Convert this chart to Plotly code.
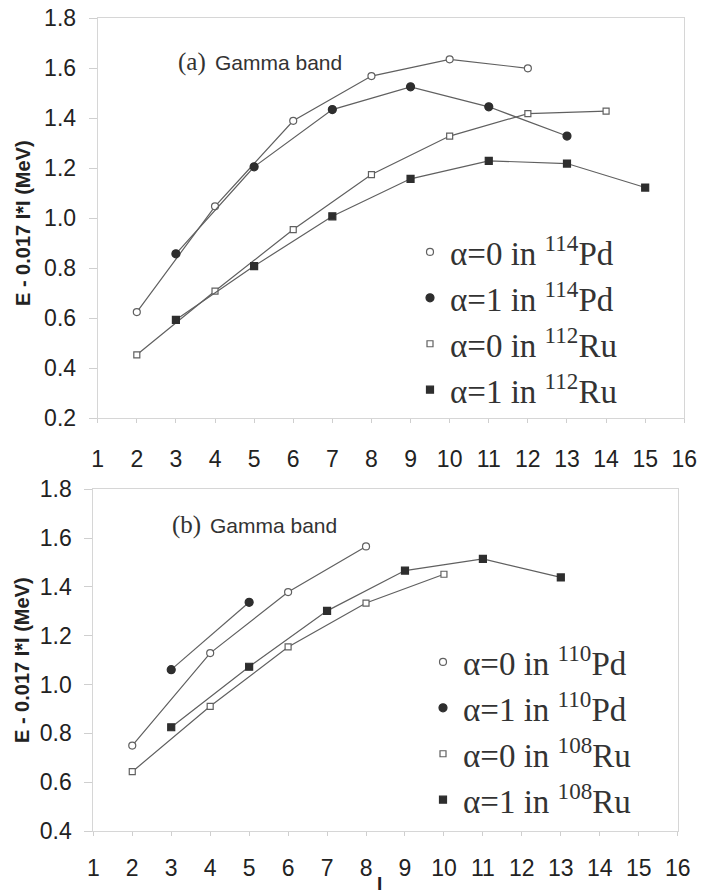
import plotly.graph_objects as go

W, H = 702, 896

# ---------------- data ----------------
# Panel (a)
a_pd0_I = [2, 4, 6, 8, 10, 12]
a_pd0_E = [0.625, 1.048, 1.390, 1.569, 1.636, 1.600]
a_pd1_I = [3, 5, 7, 9, 11, 13]
a_pd1_E = [0.858, 1.206, 1.435, 1.526, 1.446, 1.329]
a_ru0_I = [2, 4, 6, 8, 10, 12, 14]
a_ru0_E = [0.454, 0.709, 0.955, 1.175, 1.329, 1.419, 1.429]
a_ru1_I = [3, 5, 7, 9, 11, 13, 15]
a_ru1_E = [0.594, 0.809, 1.008, 1.158, 1.230, 1.219, 1.123]

# Panel (b)
b_pd0_I = [2, 4, 6, 8]
b_pd0_E = [0.750, 1.129, 1.379, 1.566]
b_pd1_I = [3, 5]
b_pd1_E = [1.061, 1.337]
b_ru0_I = [2, 4, 6, 8, 10]
b_ru0_E = [0.643, 0.911, 1.154, 1.334, 1.452]
b_ru1_I = [3, 5, 7, 9, 11, 13]
b_ru1_E = [0.825, 1.073, 1.302, 1.467, 1.515, 1.439]

a_names = ["α=0 in <sup>114</sup>Pd", "α=1 in <sup>114</sup>Pd",
           "α=0 in <sup>112</sup>Ru", "α=1 in <sup>112</sup>Ru"]
b_names = ["α=0 in <sup>110</sup>Pd", "α=1 in <sup>110</sup>Pd",
           "α=0 in <sup>108</sup>Ru", "α=1 in <sup>108</sup>Ru"]

x_ticks = list(range(1, 17))

# ---------------- styling ----------------
LINE = "#606060"
DARK = "#2e2e2e"
styles = [
    dict(symbol="circle", color="white", lc=LINE, size=7),
    dict(symbol="circle", color=DARK, lc=DARK, size=8),
    dict(symbol="square", color="white", lc=LINE, size=6),
    dict(symbol="square", color=DARK, lc=DARK, size=7),
]

fig = go.Figure()

def add_series(I, E, name, st, xa, ya, leg):
    fig.add_trace(go.Scatter(
        x=I, y=E, mode="lines", line=dict(color=LINE, width=1.2),
        xaxis=xa, yaxis=ya, showlegend=False, hoverinfo="skip"))
    fig.add_trace(go.Scatter(
        x=I, y=E, mode="markers", name=name, legend=leg,
        marker=dict(symbol=st["symbol"], color=st["color"], size=st["size"],
                    line=dict(color=st["lc"], width=1.2)),
        xaxis=xa, yaxis=ya))

a_sets = [(a_pd0_I, a_pd0_E), (a_pd1_I, a_pd1_E), (a_ru0_I, a_ru0_E), (a_ru1_I, a_ru1_E)]
b_sets = [(b_pd0_I, b_pd0_E), (b_pd1_I, b_pd1_E), (b_ru0_I, b_ru0_E), (b_ru1_I, b_ru1_E)]
for (I, E), nm, st in zip(a_sets, a_names, styles):
    add_series(I, E, nm, st, "x", "y", "legend")
for (I, E), nm, st in zip(b_sets, b_names, styles):
    add_series(I, E, nm, st, "x2", "y2", "legend2")

def px_x(p):
    return p / W

def px_y(p):
    return 1 - p / H

TICKFONT = dict(family="Liberation Sans, Arial, sans-serif", size=23, color="#222")
axis_common = dict(showline=True, linecolor="#d6d6d6", linewidth=1, mirror=True,
                   showgrid=False, zeroline=False, ticks="outside",
                   tickcolor="#cfcfcf", tickfont=TICKFONT, ticklabeloverflow="allow")

LEGFONT = dict(family="Liberation Serif, Times New Roman, serif", size=33, color="#333")

fig.update_layout(
    width=W, height=H,
    margin=dict(l=0, r=0, t=0, b=0, autoexpand=False),
    paper_bgcolor="white", plot_bgcolor="white",
    xaxis=dict(domain=[px_x(97.7), px_x(684.3)], range=[1, 16], tickvals=x_ticks,
               anchor="y", ticklen=4, ticklabelstandoff=16, **axis_common),
    yaxis=dict(domain=[px_y(418.3), px_y(18.3)], range=[0.2, 1.8], dtick=0.2,
               tickformat=".1f", anchor="x", ticklen=8, ticklabelstandoff=8, **axis_common),
    xaxis2=dict(domain=[px_x(93.3), px_x(677.7)], range=[1, 16], tickvals=x_ticks,
                anchor="y2", ticklen=4, ticklabelstandoff=12, **axis_common),
    yaxis2=dict(domain=[px_y(831), px_y(489.3)], range=[0.4, 1.8], dtick=0.2,
                tickformat=".1f", anchor="x2", ticklen=8, ticklabelstandoff=8, **axis_common),
    legend=dict(x=px_x(410), y=px_y(224), xanchor="left", yanchor="top",
                bgcolor="rgba(0,0,0,0)", tracegroupgap=0, font=LEGFONT),
    legend2=dict(x=px_x(423), y=px_y(634), xanchor="left", yanchor="top",
                 bgcolor="rgba(0,0,0,0)", tracegroupgap=0, font=LEGFONT),
)

SERIF = dict(family="Liberation Serif, Times New Roman, serif", size=25, color="#333")
SANS = dict(family="Liberation Sans, Arial, sans-serif", size=21, color="#333")
TITLEF = dict(family="Liberation Sans, Arial, sans-serif", size=20, color="#222")

ann = [
    dict(text="(a)", x=px_x(176), y=px_y(62), font=SERIF, xanchor="left"),
    dict(text="Gamma band", x=px_x(213), y=px_y(62), font=SANS, xanchor="left"),
    dict(text="(b)", x=px_x(170), y=px_y(525), font=SERIF, xanchor="left"),
    dict(text="Gamma band", x=px_x(208), y=px_y(525), font=SANS, xanchor="left"),
    dict(text="<b>E - 0.017 I*I (MeV)</b>", x=px_x(23), y=px_y(223), font=TITLEF,
         textangle=-90, xanchor="center"),
    dict(text="<b>E - 0.017 I*I (MeV)</b>", x=px_x(22), y=px_y(660), font=TITLEF,
         textangle=-90, xanchor="center"),
    dict(text="<b>I</b>", x=px_x(379), y=px_y(883),
         font=dict(family="Liberation Sans, Arial, sans-serif", size=19, color="#222"),
         xanchor="center"),
]
for a in ann:
    fig.add_annotation(xref="paper", yref="paper", showarrow=False, yanchor="middle", **a)

# remove the browser's default 8px body margin so the figure sits at (0, 0)
fig.write_html("out.html", config={"displayModeBar": False},
               post_script="document.body.style.margin='0';")
